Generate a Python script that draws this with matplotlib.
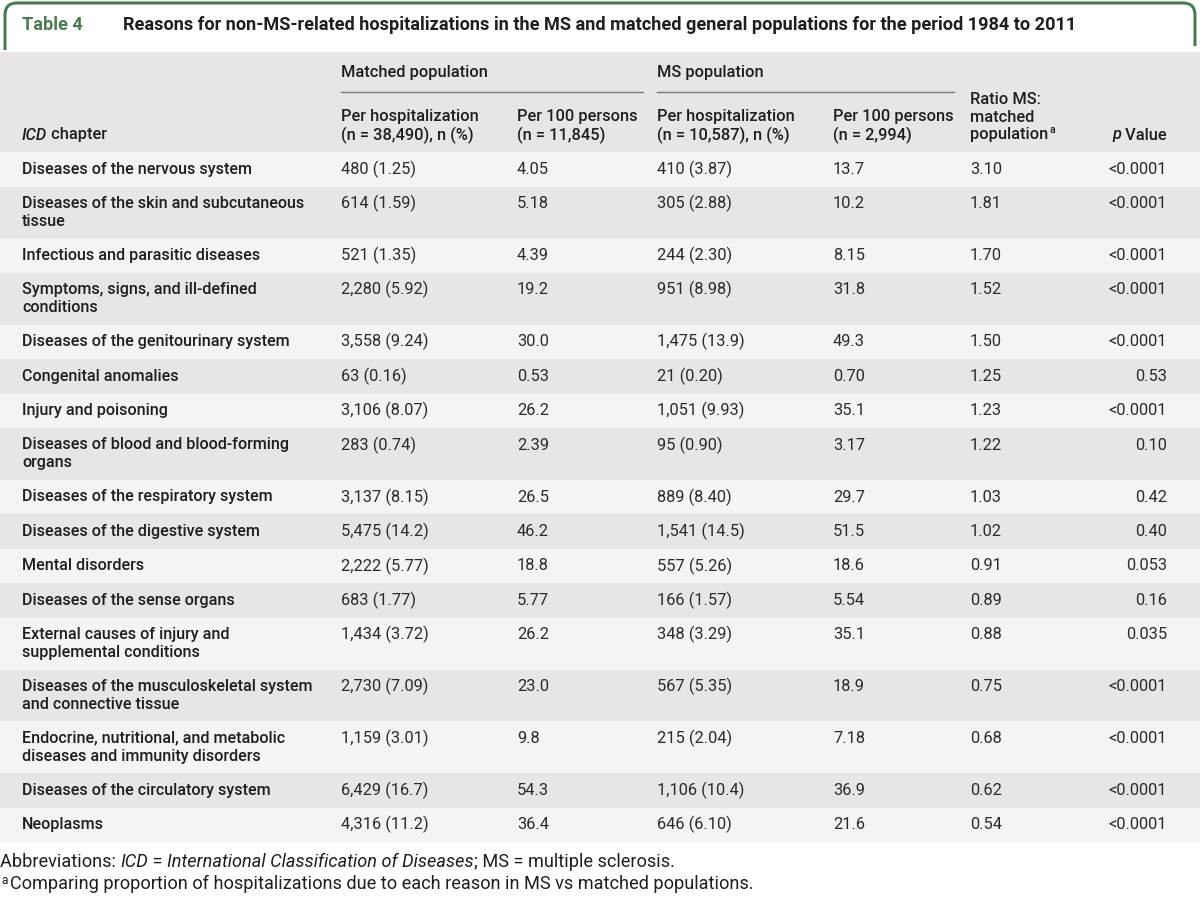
import matplotlib
matplotlib.use("Agg")
import matplotlib.pyplot as plt
from matplotlib.patches import Rectangle, PathPatch
from matplotlib.path import Path

# ---------------- data ----------------
table_label = "Table 4"
title = "Reasons for non-MS-related hospitalizations in the MS and matched general populations for the period 1984 to 2011"

chapters = [
    ["Diseases of the nervous system"],
    ["Diseases of the skin and subcutaneous", "tissue"],
    ["Infectious and parasitic diseases"],
    ["Symptoms, signs, and ill-defined", "conditions"],
    ["Diseases of the genitourinary system"],
    ["Congenital anomalies"],
    ["Injury and poisoning"],
    ["Diseases of blood and blood-forming", "organs"],
    ["Diseases of the respiratory system"],
    ["Diseases of the digestive system"],
    ["Mental disorders"],
    ["Diseases of the sense organs"],
    ["External causes of injury and", "supplemental conditions"],
    ["Diseases of the musculoskeletal system", "and connective tissue"],
    ["Endocrine, nutritional, and metabolic", "diseases and immunity disorders"],
    ["Diseases of the circulatory system"],
    ["Neoplasms"],
]
matched_per_hosp = ["480 (1.25)", "614 (1.59)", "521 (1.35)", "2,280 (5.92)", "3,558 (9.24)",
                    "63 (0.16)", "3,106 (8.07)", "283 (0.74)", "3,137 (8.15)", "5,475 (14.2)",
                    "2,222 (5.77)", "683 (1.77)", "1,434 (3.72)", "2,730 (7.09)", "1,159 (3.01)",
                    "6,429 (16.7)", "4,316 (11.2)"]
matched_per_100 = ["4.05", "5.18", "4.39", "19.2", "30.0", "0.53", "26.2", "2.39", "26.5", "46.2",
                   "18.8", "5.77", "26.2", "23.0", "9.8", "54.3", "36.4"]
ms_per_hosp = ["410 (3.87)", "305 (2.88)", "244 (2.30)", "951 (8.98)", "1,475 (13.9)",
               "21 (0.20)", "1,051 (9.93)", "95 (0.90)", "889 (8.40)", "1,541 (14.5)",
               "557 (5.26)", "166 (1.57)", "348 (3.29)", "567 (5.35)", "215 (2.04)",
               "1,106 (10.4)", "646 (6.10)"]
ms_per_100 = ["13.7", "10.2", "8.15", "31.8", "49.3", "0.70", "35.1", "3.17", "29.7", "51.5",
              "18.6", "5.54", "35.1", "18.9", "7.18", "36.9", "21.6"]
ratio = ["3.10", "1.81", "1.70", "1.52", "1.50", "1.25", "1.23", "1.22", "1.03", "1.02",
         "0.91", "0.89", "0.88", "0.75", "0.68", "0.62", "0.54"]
p_values = ["<0.0001", "<0.0001", "<0.0001", "<0.0001", "<0.0001", "0.53", "<0.0001", "0.10",
            "0.42", "0.40", "0.053", "0.16", "0.035", "<0.0001", "<0.0001", "<0.0001", "<0.0001"]

group_headers = ["Matched population", "MS population"]
sub_headers = [["Per hospitalization", "(n = 38,490), n (%)"],
               ["Per 100 persons", "(n = 11,845)"],
               ["Per hospitalization", "(n = 10,587), n (%)"],
               ["Per 100 persons", "(n = 2,994)"]]

# ---------------- style ----------------
FONT = "Roboto"
GREEN = "#4a7b53"
TXT = "#1e1e1e"
NUM = "#2a2a2a"
HEAD_BG = "#e6e6e6"
LIGHT = "#f4f4f4"
DARK = "#e6e6e6"
FS = 11.8     # numbers / headers font size (pt)
LFS = 11.6    # row label font size
HW = "medium"

W, H = 1200, 898
fig = plt.figure(figsize=(W / 100, H / 100), dpi=100)
ax = fig.add_axes([0, 0, 1, 1])
ax.set_xlim(0, W)
ax.set_ylim(H, 0)
ax.axis("off")
fig.canvas.draw()
renderer = fig.canvas.get_renderer()


def width_of(t):
    bb = t.get_window_extent(renderer=renderer)
    return bb.width


def runs(x, y, parts, **common):
    """draw consecutive text runs: parts = list of (text, props)"""
    cx = x
    for txt, props in parts:
        kw = dict(common)
        kw.update(props)
        t = ax.text(cx, y, txt, va="center", ha="left", **kw)
        cx += width_of(t)
    return cx


# title box border
r = 12
verts = [(5, 50), (5, 3 + r), (5, 3), (5 + r, 3), (W - 5 - r, 3), (W - 5, 3), (W - 5, 3 + r), (W - 5, 46)]
codes = [Path.MOVETO, Path.LINETO, Path.CURVE3, Path.CURVE3, Path.LINETO, Path.CURVE3, Path.CURVE3, Path.LINETO]
ax.add_patch(PathPatch(Path(verts, codes), fill=False, edgecolor=GREEN, lw=2.2))

ax.text(22, 25, table_label, fontsize=13.1, fontweight="bold", color=GREEN, family=FONT, va="center")
ax.text(123, 25, title, fontsize=13.1, fontweight="bold", color=TXT, family=FONT, va="center")

# header band
ax.add_patch(Rectangle((0, 52), W, 100, facecolor=HEAD_BG, edgecolor="none"))

hkw = dict(fontsize=FS, fontweight=HW, color=TXT, family=FONT)
col_x = [341, 517, 657, 833]
ax.text(341, 72, group_headers[0], va="center", **hkw)
ax.text(657, 72, group_headers[1], va="center", **hkw)
ax.plot([341, 643], [92, 92], color="#777777", lw=1)
ax.plot([657, 954], [92, 92], color="#777777", lw=1)
for cx, (l1, l2) in zip(col_x, sub_headers):
    ax.text(cx, 117, l1, va="center", **hkw)
    ax.text(cx, 135, l2, va="center", **hkw)
ax.text(970, 99, "Ratio MS:", va="center", **hkw)
ax.text(970, 117, "matched", va="center", **hkw)
end = runs(970, 135, [("population", {})], **hkw)
ax.text(end + 1, 130, "a", va="center", ha="left", fontsize=7.5, fontweight=HW, color=TXT, family=FONT)
runs(22, 135, [("ICD", {"style": "italic"}), (" chapter", {})], **hkw)
# p Value right aligned at 1167
tmp = ax.text(0, 0, " Value", **hkw)
wv = width_of(tmp)
tmp.remove()
ax.text(1167, 135, " Value", va="center", ha="right", **hkw)
ax.text(1167 - wv, 135, "p", va="center", ha="right", style="italic", **hkw)

# rows
SINGLE, DOUBLE = 34.5, 51.75
top = 152
lab_kw = dict(fontsize=LFS, fontweight=HW, color=TXT, family=FONT)
num_kw = dict(fontsize=FS, fontweight="normal", color=NUM, family=FONT)
for i, lines in enumerate(chapters):
    h = SINGLE if len(lines) == 1 else DOUBLE
    ax.add_patch(Rectangle((0, top), W, h, facecolor=LIGHT if i % 2 == 0 else DARK, edgecolor="none"))
    y1 = top + h / 2 if len(lines) == 1 else top + 17
    for k, ln in enumerate(lines):
        ax.text(22, y1 + 18 * k, ln, va="center", **lab_kw)
    ax.text(341, y1, matched_per_hosp[i], va="center", **num_kw)
    ax.text(517, y1, matched_per_100[i], va="center", **num_kw)
    ax.text(657, y1, ms_per_hosp[i], va="center", **num_kw)
    ax.text(833, y1, ms_per_100[i], va="center", **num_kw)
    ax.text(970, y1, ratio[i], va="center", **num_kw)
    ax.text(1167, y1, p_values[i], va="center", ha="right", **num_kw)
    top += h

# footnotes
FFS = 13.1
fkw = dict(fontsize=FFS, fontweight="normal", color=TXT, family=FONT)
runs(0, 862, [("Abbreviations: ", {}), ("ICD", {"style": "italic"}), (" = ", {}),
              ("International Classification of Diseases", {"style": "italic"}),
              ("; MS = multiple sclerosis.", {})], **fkw)
ax.text(1, 880, "a", va="center", fontsize=8.5, color=TXT, family=FONT)
ax.text(10, 884, "Comparing proportion of hospitalizations due to each reason in MS vs matched populations.",
        va="center", **fkw)

fig.savefig("out.png", dpi=100)
